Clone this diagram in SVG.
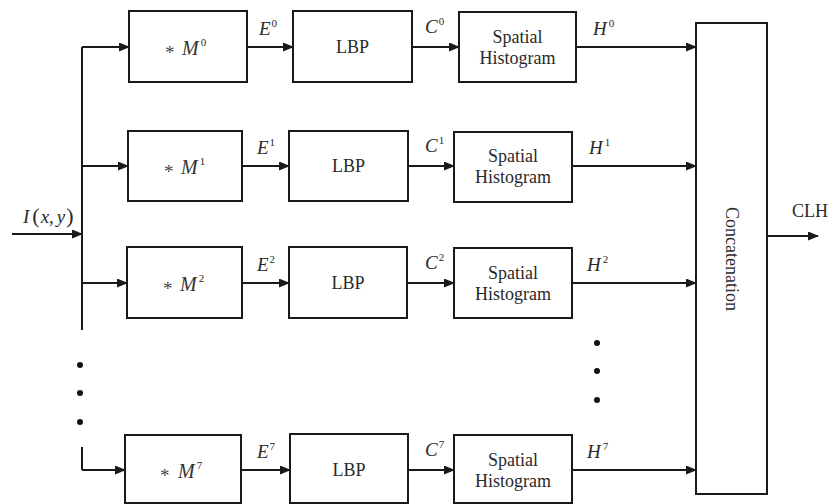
<svg xmlns="http://www.w3.org/2000/svg" width="829" height="504" viewBox="0 0 829 504">
<defs>
<marker id="ah" markerUnits="userSpaceOnUse" markerWidth="11" markerHeight="10" refX="10" refY="4.5" orient="auto"><path d="M0,0 L11,4.5 L0,9 z" fill="#1a1a1a"/></marker>
<style>
.box{fill:#fff;stroke:#1a1a1a;stroke-width:2}
.ln{fill:none;stroke:#1a1a1a;stroke-width:2}
.ar{fill:none;stroke:#1a1a1a;stroke-width:2;marker-end:url(#ah)}
.t{font-family:"Liberation Serif","Times New Roman",serif;font-size:18px;fill:#2a2a2a;text-anchor:middle}
.m{font-family:"Liberation Serif","Times New Roman",serif;font-size:19px;fill:#2a2a2a;font-style:italic}
.mm{font-family:"Liberation Serif","Times New Roman",serif;font-size:20px;fill:#333;font-style:italic}
.sup{font-family:"Liberation Serif","Times New Roman",serif;font-size:11px;fill:#2a2a2a;font-style:normal}
.ast{font-family:"Liberation Serif","Times New Roman",serif;font-size:19px;fill:#444}
.dot{fill:#111}
</style>
</defs>
<rect width="829" height="504" fill="#fff"/>

<g id="connectors">
<path class="ln" d="M82,47 V330"/>
<path class="ln" d="M82,447 V470"/>
<path class="ar" d="M12,234 H82"/>
<path class="ar" d="M82,47 H129"/>
<path class="ar" d="M82,166 H128"/>
<path class="ar" d="M82,283 H127"/>
<path class="ar" d="M82,470 H125"/>
<path class="ar" d="M247,47 H293"/>
<path class="ar" d="M242,166 H289"/>
<path class="ar" d="M242,283 H289"/>
<path class="ar" d="M241,470 H290"/>
<path class="ar" d="M412,47 H459"/>
<path class="ar" d="M408,166 H454"/>
<path class="ar" d="M407,283 H454"/>
<path class="ar" d="M408,470 H454"/>
<path class="ar" d="M576,47 H696"/>
<path class="ar" d="M572,166 H696"/>
<path class="ar" d="M572,283 H696"/>
<path class="ar" d="M572,470 H696"/>
<path class="ar" d="M767,236 H818"/>
<circle class="dot" cx="80" cy="365" r="3"/>
<circle class="dot" cx="80" cy="393" r="3"/>
<circle class="dot" cx="80" cy="422" r="3"/>
<circle class="dot" cx="597" cy="343" r="3"/>
<circle class="dot" cx="597" cy="371" r="3"/>
<circle class="dot" cx="597" cy="400" r="3"/>
<text class="m" x="23" y="223">I<tspan font-style="normal" font-size="22" dx="3">(</tspan><tspan dx="1">x</tspan>,<tspan dx="3">y</tspan><tspan font-style="normal" font-size="22" dx="1">)</tspan></text>
<text class="m" x="259" y="35">E<tspan class="sup" dx="1" dy="-8">0</tspan></text>
<text class="m" x="257" y="154">E<tspan class="sup" dx="1" dy="-8">1</tspan></text>
<text class="m" x="257" y="271">E<tspan class="sup" dx="1" dy="-8">2</tspan></text>
<text class="m" x="257" y="458">E<tspan class="sup" dx="1" dy="-8">7</tspan></text>
<text class="m" x="425" y="33">C<tspan class="sup" dx="1" dy="-8">0</tspan></text>
<text class="m" x="425" y="152">C<tspan class="sup" dx="1" dy="-8">1</tspan></text>
<text class="m" x="425" y="269">C<tspan class="sup" dx="1" dy="-8">2</tspan></text>
<text class="m" x="425" y="456">C<tspan class="sup" dx="1" dy="-8">7</tspan></text>
<text class="m" x="593" y="35">H<tspan class="sup" dx="2" dy="-8">0</tspan></text>
<text class="m" x="589" y="154">H<tspan class="sup" dx="2" dy="-8">1</tspan></text>
<text class="m" x="587" y="271">H<tspan class="sup" dx="2" dy="-8">2</tspan></text>
<text class="m" x="587" y="458">H<tspan class="sup" dx="2" dy="-8">7</tspan></text>
<text class="t" x="810" y="217">CLH</text>
</g>

<g id="m0"><rect class="box" x="129" y="11" width="118" height="71"/><text class="ast" x="165" y="59">*</text><text class="mm" x="182" y="55">M<tspan class="sup" dx="2" dy="-9">0</tspan></text></g>
<g id="m1"><rect class="box" x="128" y="131" width="114" height="70"/><text class="ast" x="164" y="178">*</text><text class="mm" x="181" y="174">M<tspan class="sup" dx="2" dy="-9">1</tspan></text></g>
<g id="m2"><rect class="box" x="127" y="247" width="115" height="71"/><text class="ast" x="163" y="295">*</text><text class="mm" x="180" y="291">M<tspan class="sup" dx="2" dy="-9">2</tspan></text></g>
<g id="m7"><rect class="box" x="125" y="435" width="116" height="68"/><text class="ast" x="160" y="482">*</text><text class="mm" x="178" y="478">M<tspan class="sup" dx="2" dy="-9">7</tspan></text></g>

<g id="lbp0"><rect class="box" x="293" y="11" width="119" height="71"/><text class="t" x="352.5" y="53">LBP</text></g>
<g id="lbp1"><rect class="box" x="289" y="131" width="119" height="70"/><text class="t" x="348.5" y="172">LBP</text></g>
<g id="lbp2"><rect class="box" x="289" y="247" width="118" height="71"/><text class="t" x="348" y="289">LBP</text></g>
<g id="lbp7"><rect class="box" x="290" y="434" width="118" height="69"/><text class="t" x="349" y="476">LBP</text></g>

<g id="sh0"><rect class="box" x="459" y="12" width="117" height="70"/><text class="t" x="517.5" y="43">Spatial</text><text class="t" x="517.5" y="64">Histogram</text></g>
<g id="sh1"><rect class="box" x="454" y="132" width="118" height="70"/><text class="t" x="513" y="162">Spatial</text><text class="t" x="513" y="183">Histogram</text></g>
<g id="sh2"><rect class="box" x="454" y="248" width="118" height="70"/><text class="t" x="513" y="279">Spatial</text><text class="t" x="513" y="300">Histogram</text></g>
<g id="sh7"><rect class="box" x="454" y="435" width="118" height="68"/><text class="t" x="513" y="466">Spatial</text><text class="t" x="513" y="487">Histogram</text></g>

<g id="concat"><rect class="box" x="696" y="23" width="71" height="471"/><text class="t" x="0" y="0" font-size="18" dominant-baseline="central" transform="translate(732,259) rotate(90)">Concatenation</text></g>
</svg>
